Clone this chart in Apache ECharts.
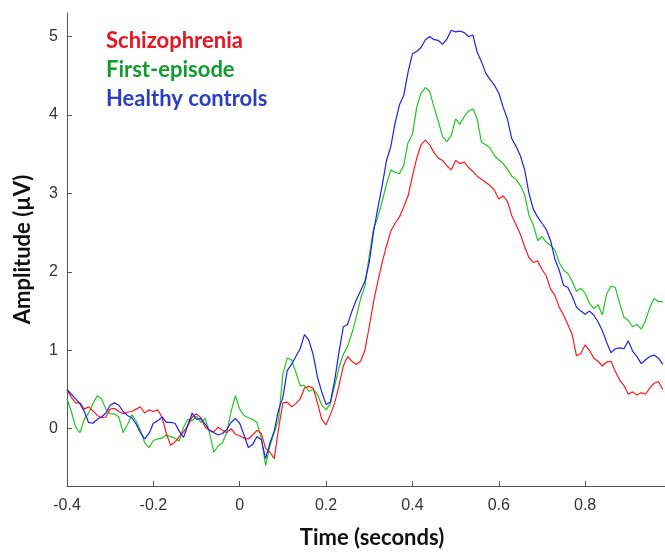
<!DOCTYPE html>
<html>
<head>
<meta charset="utf-8">
<script src="https://cdn.jsdelivr.net/npm/echarts@6/dist/echarts.min.js"></script>
<style>
html,body{margin:0;padding:0;background:#fff;}
#chart{width:665px;height:554px;}
</style>
</head>
<body>
<div id="chart"></div>
<script>
// sample times (seconds)
const time = [-0.40,-0.39,-0.38,-0.37,-0.36,-0.35,-0.34,-0.33,-0.32,-0.31,-0.30,-0.29,-0.28,-0.27,-0.26,-0.25,-0.24,-0.23,-0.22,-0.21,
-0.20,-0.19,-0.18,-0.17,-0.16,-0.15,-0.14,-0.13,-0.12,-0.11,-0.10,-0.09,-0.08,-0.07,-0.06,-0.05,-0.04,-0.03,-0.02,-0.01,
0.00,0.01,0.02,0.03,0.04,0.05,0.06,0.07,0.08,0.09,0.10,0.11,0.12,0.13,0.14,0.15,0.16,0.17,0.18,0.19,
0.20,0.21,0.22,0.23,0.24,0.25,0.26,0.27,0.28,0.29,0.30,0.31,0.32,0.33,0.34,0.35,0.36,0.37,0.38,0.39,
0.40,0.41,0.42,0.43,0.44,0.45,0.46,0.47,0.48,0.49,0.50,0.51,0.52,0.53,0.54,0.55,0.56,0.57,0.58,0.59,
0.60,0.61,0.62,0.63,0.64,0.65,0.66,0.67,0.68,0.69,0.70,0.71,0.72,0.73,0.74,0.75,0.76,0.77,0.78,0.79,
0.80,0.81,0.82,0.83,0.84,0.85,0.86,0.87,0.88,0.89,0.90,0.91,0.92,0.93,0.94,0.95,0.96,0.97,0.98];

const schizophrenia = [0.50,0.40,0.33,0.33,0.25,0.28,0.23,0.17,0.14,0.15,0.25,0.26,0.22,0.19,0.21,0.22,0.25,0.28,0.20,0.24,
0.22,0.24,0.15,-0.06,-0.21,-0.17,-0.10,-0.04,0.04,0.15,0.19,0.14,0.02,-0.02,-0.04,0.02,-0.02,-0.05,0.00,-0.07,
-0.09,-0.12,-0.13,-0.08,-0.02,-0.06,-0.25,-0.30,-0.38,0.00,0.33,0.34,0.28,0.32,0.38,0.52,0.54,0.52,0.33,0.12,
0.05,0.18,0.33,0.55,0.80,0.92,0.86,0.82,0.86,1.00,1.30,1.62,1.88,2.12,2.33,2.52,2.62,2.70,2.83,2.97,
3.22,3.45,3.62,3.68,3.62,3.52,3.45,3.42,3.35,3.30,3.42,3.38,3.40,3.33,3.28,3.22,3.18,3.14,3.10,3.04,
2.93,2.97,2.90,2.72,2.60,2.48,2.32,2.18,2.12,2.14,2.03,1.95,1.78,1.70,1.55,1.45,1.33,1.20,0.93,0.96,
1.07,1.00,0.90,0.86,0.80,0.85,0.86,0.73,0.62,0.55,0.44,0.47,0.43,0.46,0.44,0.52,0.58,0.60,0.50];

const firstEpisode = [0.38,0.22,0.02,-0.05,0.12,0.20,0.32,0.42,0.38,0.25,0.19,0.19,0.15,-0.05,0.05,0.18,0.10,-0.02,-0.18,-0.24,
-0.15,-0.13,-0.12,-0.08,-0.10,-0.12,-0.16,0.02,0.12,0.10,0.16,0.08,0.13,-0.05,-0.30,-0.22,-0.18,-0.05,0.22,0.42,
0.25,0.17,0.14,0.12,0.08,-0.12,-0.47,-0.22,-0.05,0.12,0.70,0.90,0.88,0.72,0.55,0.55,0.48,0.50,0.44,0.30,
0.24,0.32,0.55,0.78,0.95,1.05,1.22,1.42,1.66,1.82,2.20,2.55,2.70,2.90,3.12,3.30,3.27,3.25,3.36,3.65,
3.75,4.10,4.28,4.35,4.30,4.10,3.92,3.72,3.66,3.74,3.95,3.88,3.98,4.05,4.08,3.95,3.65,3.62,3.58,3.48,
3.43,3.38,3.31,3.22,3.18,3.10,2.98,2.72,2.60,2.40,2.45,2.38,2.34,2.28,2.12,2.02,1.98,1.88,1.75,1.79,
1.73,1.60,1.53,1.58,1.45,1.72,1.82,1.80,1.60,1.42,1.38,1.30,1.33,1.27,1.38,1.55,1.66,1.62,1.62];

const healthyControls = [0.50,0.44,0.38,0.32,0.22,0.08,0.07,0.12,0.15,0.20,0.30,0.33,0.30,0.22,0.17,0.14,0.06,-0.05,-0.13,-0.06,
0.07,0.10,0.15,0.08,0.08,0.07,-0.03,-0.11,0.05,0.20,0.12,0.13,0.06,-0.02,-0.05,-0.08,-0.06,-0.01,0.08,0.13,
0.07,-0.08,-0.24,-0.20,-0.10,-0.14,-0.38,-0.18,-0.03,0.24,0.40,0.74,0.82,0.92,1.02,1.20,1.13,0.95,0.66,0.47,
0.31,0.34,0.62,0.98,1.30,1.33,1.50,1.64,1.76,1.88,2.12,2.51,2.82,3.10,3.42,3.60,3.90,4.13,4.25,4.55,
4.78,4.81,4.86,4.96,5.00,4.96,4.95,4.90,4.97,5.08,5.06,5.07,5.05,5.00,5.02,4.80,4.68,4.53,4.45,4.38,
4.28,4.10,3.95,3.70,3.60,3.48,3.30,3.00,2.80,2.70,2.62,2.54,2.40,2.16,2.02,1.83,1.80,1.69,1.55,1.50,
1.46,1.50,1.45,1.36,1.25,1.10,0.97,1.02,1.03,1.02,1.12,0.99,0.92,0.83,0.88,0.92,0.94,0.90,0.82];

const seriesNames = ['Schizophrenia', 'First-episode', 'Healthy controls'];
const xTicks = [-0.4, -0.2, 0, 0.2, 0.4, 0.6, 0.8];
const yTicks = [0, 1, 2, 3, 4, 5];

const lineColors = ['#ff1a1a', '#1ec81e', '#1f1fee'];
const textColors = ['#ea1320', '#139a30', '#2b3ec0'];

function pairs(vals) { return vals.map((v, i) => [time[i], v]); }

const chart = echarts.init(document.getElementById('chart'), null, {renderer: 'canvas'});
const tickFont = {fontFamily: 'Liberation Sans, Arial, sans-serif', fontSize: 16, color: '#333'};
const axisCol = '#555';
const titleFont = {fontFamily: 'Lato, Open Sans, sans-serif', fontWeight: 'bold', fontSize: 22, color: '#111'};

chart.setOption({
  animation: false,
  backgroundColor: '#fff',
  grid: {left: 67, right: 0, top: 13, bottom: 65, containLabel: false},
  legend: {
    show: true,
    orient: 'vertical',
    left: 96,
    top: 25,
    icon: 'none',
    itemWidth: 0,
    itemHeight: 10,
    itemGap: 7,
    selectedMode: false,
    textStyle: {fontFamily: 'Lato, Open Sans, sans-serif', fontWeight: 'bold', fontSize: 22},
    data: seriesNames.map((n, i) => ({name: n, textStyle: {color: textColors[i]}}))
  },
  xAxis: {
    type: 'value',
    min: -0.4,
    max: 0.985,
    name: 'Time (seconds)',
    nameLocation: 'middle',
    nameGap: 41,
    nameTextStyle: Object.assign({padding: [0, 0, 0, 12]}, titleFont),
    axisLine: {show: true, onZero: false, lineStyle: {color: axisCol, width: 1}},
    axisTick: {show: true, inside: true, length: 5, lineStyle: {color: axisCol}, customValues: xTicks},
    axisLabel: {margin: 12, customValues: xTicks, formatter: v => String(v), ...tickFont},
    splitLine: {show: false}
  },
  yAxis: {
    type: 'value',
    min: -0.73,
    max: 5.3,
    name: 'Amplitude (µV)',
    nameLocation: 'middle',
    nameGap: 33,
    nameTextStyle: titleFont,
    axisLine: {show: true, onZero: false, lineStyle: {color: axisCol, width: 1}},
    axisTick: {show: true, inside: true, length: 5, lineStyle: {color: axisCol}, customValues: yTicks},
    axisLabel: {margin: 9, customValues: yTicks, formatter: v => String(v), ...tickFont},
    splitLine: {show: false}
  },
  series: [
    {name: seriesNames[0], type: 'line', data: pairs(schizophrenia), showSymbol: false, symbol: 'none', lineStyle: {color: lineColors[0], width: 1.2}, itemStyle: {color: lineColors[0]}, z: 3},
    {name: seriesNames[1], type: 'line', data: pairs(firstEpisode), showSymbol: false, symbol: 'none', lineStyle: {color: lineColors[1], width: 1.2}, itemStyle: {color: lineColors[1]}, z: 2},
    {name: seriesNames[2], type: 'line', data: pairs(healthyControls), showSymbol: false, symbol: 'none', lineStyle: {color: lineColors[2], width: 1.2}, itemStyle: {color: lineColors[2]}, z: 4}
  ]
});
</script>
</body>
</html>
